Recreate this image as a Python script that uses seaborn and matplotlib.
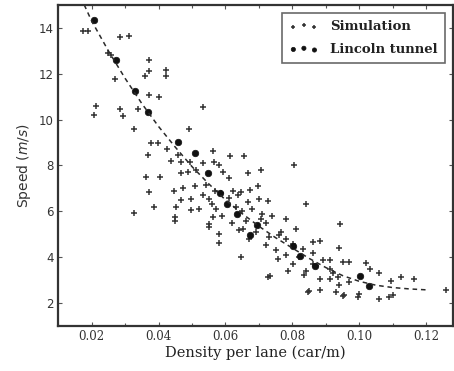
import matplotlib
matplotlib.use("Agg")
import matplotlib.pyplot as plt
from matplotlib.ticker import MultipleLocator
import seaborn as sns
import pandas as pd

sim_x = [0.0174, 0.0189, 0.0284, 0.0311, 0.0249, 0.0259, 0.0373, 0.0371, 0.0361, 0.0421,
         0.0423, 0.0271, 0.0371, 0.0400, 0.0214, 0.0284, 0.0340, 0.0208, 0.0293, 0.0534,
         0.0326, 0.0490, 0.0378, 0.0398, 0.0426, 0.0368, 0.0458, 0.0562, 0.0615, 0.0655,
         0.0438, 0.0468, 0.0493, 0.0532, 0.0567, 0.0582, 0.0363, 0.0403, 0.0466, 0.0487,
         0.0512, 0.0592, 0.0612, 0.0371, 0.0446, 0.0473, 0.0510, 0.0542, 0.0468, 0.0498,
         0.0532, 0.0552, 0.0587, 0.0622, 0.0637, 0.0386, 0.0453, 0.0498, 0.0522, 0.0572,
         0.0328, 0.0448, 0.0562, 0.0806, 0.0667, 0.0707, 0.0647, 0.0672, 0.0696, 0.0726,
         0.0841, 0.0667, 0.0701, 0.0781, 0.0811, 0.0707, 0.0652, 0.0582, 0.0582, 0.0552,
         0.0731, 0.0761, 0.0781, 0.0801, 0.0721, 0.0448, 0.0552, 0.0647, 0.0756, 0.0726,
         0.0732, 0.0942, 0.0938, 0.0861, 0.0881, 0.0766, 0.0831, 0.0801, 0.0786, 0.0836,
         0.0861, 0.0871, 0.0911, 0.0911, 0.0950, 0.0970, 0.1020, 0.1032, 0.1060, 0.0881,
         0.0911, 0.0935, 0.0940, 0.0970, 0.0851, 0.0881, 0.0950, 0.0995, 0.1060, 0.1089,
         0.1099, 0.1095, 0.1124, 0.1164, 0.1259, 0.0846, 0.0930, 0.0955, 0.1000, 0.0570,
         0.0610, 0.0630, 0.0650, 0.0660, 0.0680, 0.0710, 0.0690, 0.0720, 0.0740, 0.0620,
         0.0590, 0.0560, 0.0640, 0.0670, 0.0750, 0.0780, 0.0820, 0.0860, 0.0890, 0.0840,
         0.0920]
sim_y = [13.88, 13.88, 13.59, 13.64, 12.90, 12.83, 12.61, 12.10, 11.89, 12.15,
         11.89, 11.78, 11.08, 10.98, 10.57, 10.45, 10.47, 10.18, 10.14, 10.54,
         9.58, 9.59, 9.00, 8.97, 8.70, 8.46, 8.46, 8.63, 8.43, 8.43,
         8.19, 8.17, 8.17, 8.09, 8.17, 8.02, 7.51, 7.51, 7.65, 7.73,
         7.80, 7.73, 7.44, 6.85, 6.88, 7.00, 7.10, 7.14, 6.49, 6.56,
         6.70, 6.56, 6.78, 6.88, 6.70, 6.20, 6.20, 6.05, 6.12, 6.12,
         5.95, 5.76, 5.76, 8.02, 7.65, 7.80, 6.85, 6.92, 7.11, 6.44,
         6.34, 6.42, 6.56, 5.65, 5.22, 5.68, 5.25, 5.03, 4.63, 5.32,
         4.88, 4.95, 4.81, 4.59, 4.52, 5.57, 5.47, 4.01, 3.93, 3.13,
         3.18, 5.47, 4.40, 4.67, 4.69, 5.10, 4.37, 3.72, 3.42, 3.23,
         3.72, 3.60, 3.86, 3.50, 3.79, 3.79, 3.76, 3.50, 3.32, 3.06,
         3.06, 3.13, 2.77, 2.91, 2.55, 2.59, 2.33, 2.29, 2.18, 2.28,
         2.36, 2.98, 3.13, 3.06, 2.59, 2.48, 2.48, 2.36, 2.40, 6.90,
         6.60, 6.20, 6.00, 5.60, 6.10, 5.90, 5.10, 5.50, 5.80, 5.50,
         5.80, 6.30, 5.20, 4.80, 4.30, 4.10, 4.00, 4.20, 3.90, 3.40,
         3.30]

lin_x = [0.0208, 0.0273, 0.0330, 0.0370, 0.0459, 0.0509, 0.0547, 0.0584, 0.0604,
         0.0633, 0.0695, 0.0673, 0.0802, 0.0822, 0.0867, 0.1001, 0.1029]
lin_y = [14.36, 12.61, 11.23, 10.32, 9.01, 8.56, 7.65, 6.78, 6.34,
         5.90, 5.39, 4.95, 4.49, 4.05, 3.64, 3.18, 2.74]

fit_x = [0.0178, 0.020, 0.025, 0.030, 0.035, 0.040, 0.045, 0.050, 0.055, 0.060, 0.065,
         0.070, 0.075, 0.080, 0.085, 0.090, 0.095, 0.100, 0.105, 0.110, 0.115, 0.120]
fit_y = [15.0, 14.3, 13.0, 11.8, 10.7, 9.7, 8.8, 7.95, 7.2, 6.5, 5.9,
         5.35, 4.85, 4.4, 3.95, 3.55, 3.2, 2.95, 2.78, 2.68, 2.62, 2.58]

x_ticks = [0.02, 0.04, 0.06, 0.08, 0.10, 0.12]
x_tick_labels = ["0.02", "0.04", "0.06", "0.08", "0.10", "0.12"]
y_ticks = [2, 4, 6, 8, 10, 12, 14]

sns.set_style("ticks")
plt.rcParams["font.family"] = ["DejaVu Sans"]

fig = plt.figure(figsize=(4.54, 3.71), dpi=100)
ax = fig.add_axes([0.128, 0.121, 0.870, 0.866])

sim_df = pd.DataFrame({"x": sim_x, "y": sim_y})
lin_df = pd.DataFrame({"x": lin_x, "y": lin_y})
fit_df = pd.DataFrame({"x": fit_x, "y": fit_y})

sns.lineplot(data=fit_df, x="x", y="y", ax=ax, color="#2a2a2a", lw=1.1,
             linestyle=(0, (3, 2.5)), sort=False)
sns.scatterplot(data=sim_df, x="x", y="y", ax=ax, marker="+", color="#333333",
                s=20, linewidth=1.1, label="Simulation")
sns.scatterplot(data=lin_df, x="x", y="y", ax=ax, marker="o", color="#111111",
                s=22, edgecolor="#111111", linewidth=0.5, label="Lincoln tunnel")

ax.set_xlim(0.01, 0.128)
ax.set_ylim(1.0, 15.0)
ax.set_xticks(x_ticks)
ax.set_xticklabels(x_tick_labels, family="DejaVu Serif", fontsize=8.5, color="#333333")
ax.set_yticks(y_ticks)
ax.xaxis.set_minor_locator(MultipleLocator(0.01))
ax.tick_params(axis="y", labelsize=8.5, labelcolor="#333333")
ax.tick_params(which="both", direction="in", top=True, right=True, length=3,
               width=0.8, color="#555555", pad=3)
ax.tick_params(which="minor", length=2)

for sp in ax.spines.values():
    sp.set_linewidth(1.6)
    sp.set_color("#333333")

ax.set_xlabel("Density per lane (car/m)", family="DejaVu Serif", fontsize=10.5,
              color="#222222", labelpad=2)
ax.set_ylabel("Speed ($m/s$)", fontsize=10, color="#333333", labelpad=4)

leg = ax.legend(loc="upper right", scatterpoints=3, frameon=True, fancybox=False,
                prop={"family": "DejaVu Serif", "weight": "bold", "size": 9.5},
                borderpad=0.55, handletextpad=0.9, labelspacing=0.75,
                borderaxespad=0.6, markerscale=0.65, handlelength=2.2)
leg.get_frame().set_edgecolor("#444444")
leg.get_frame().set_linewidth(1.2)
for t in leg.get_texts():
    t.set_color("#222222")

fig.savefig("out.png", dpi=100)
